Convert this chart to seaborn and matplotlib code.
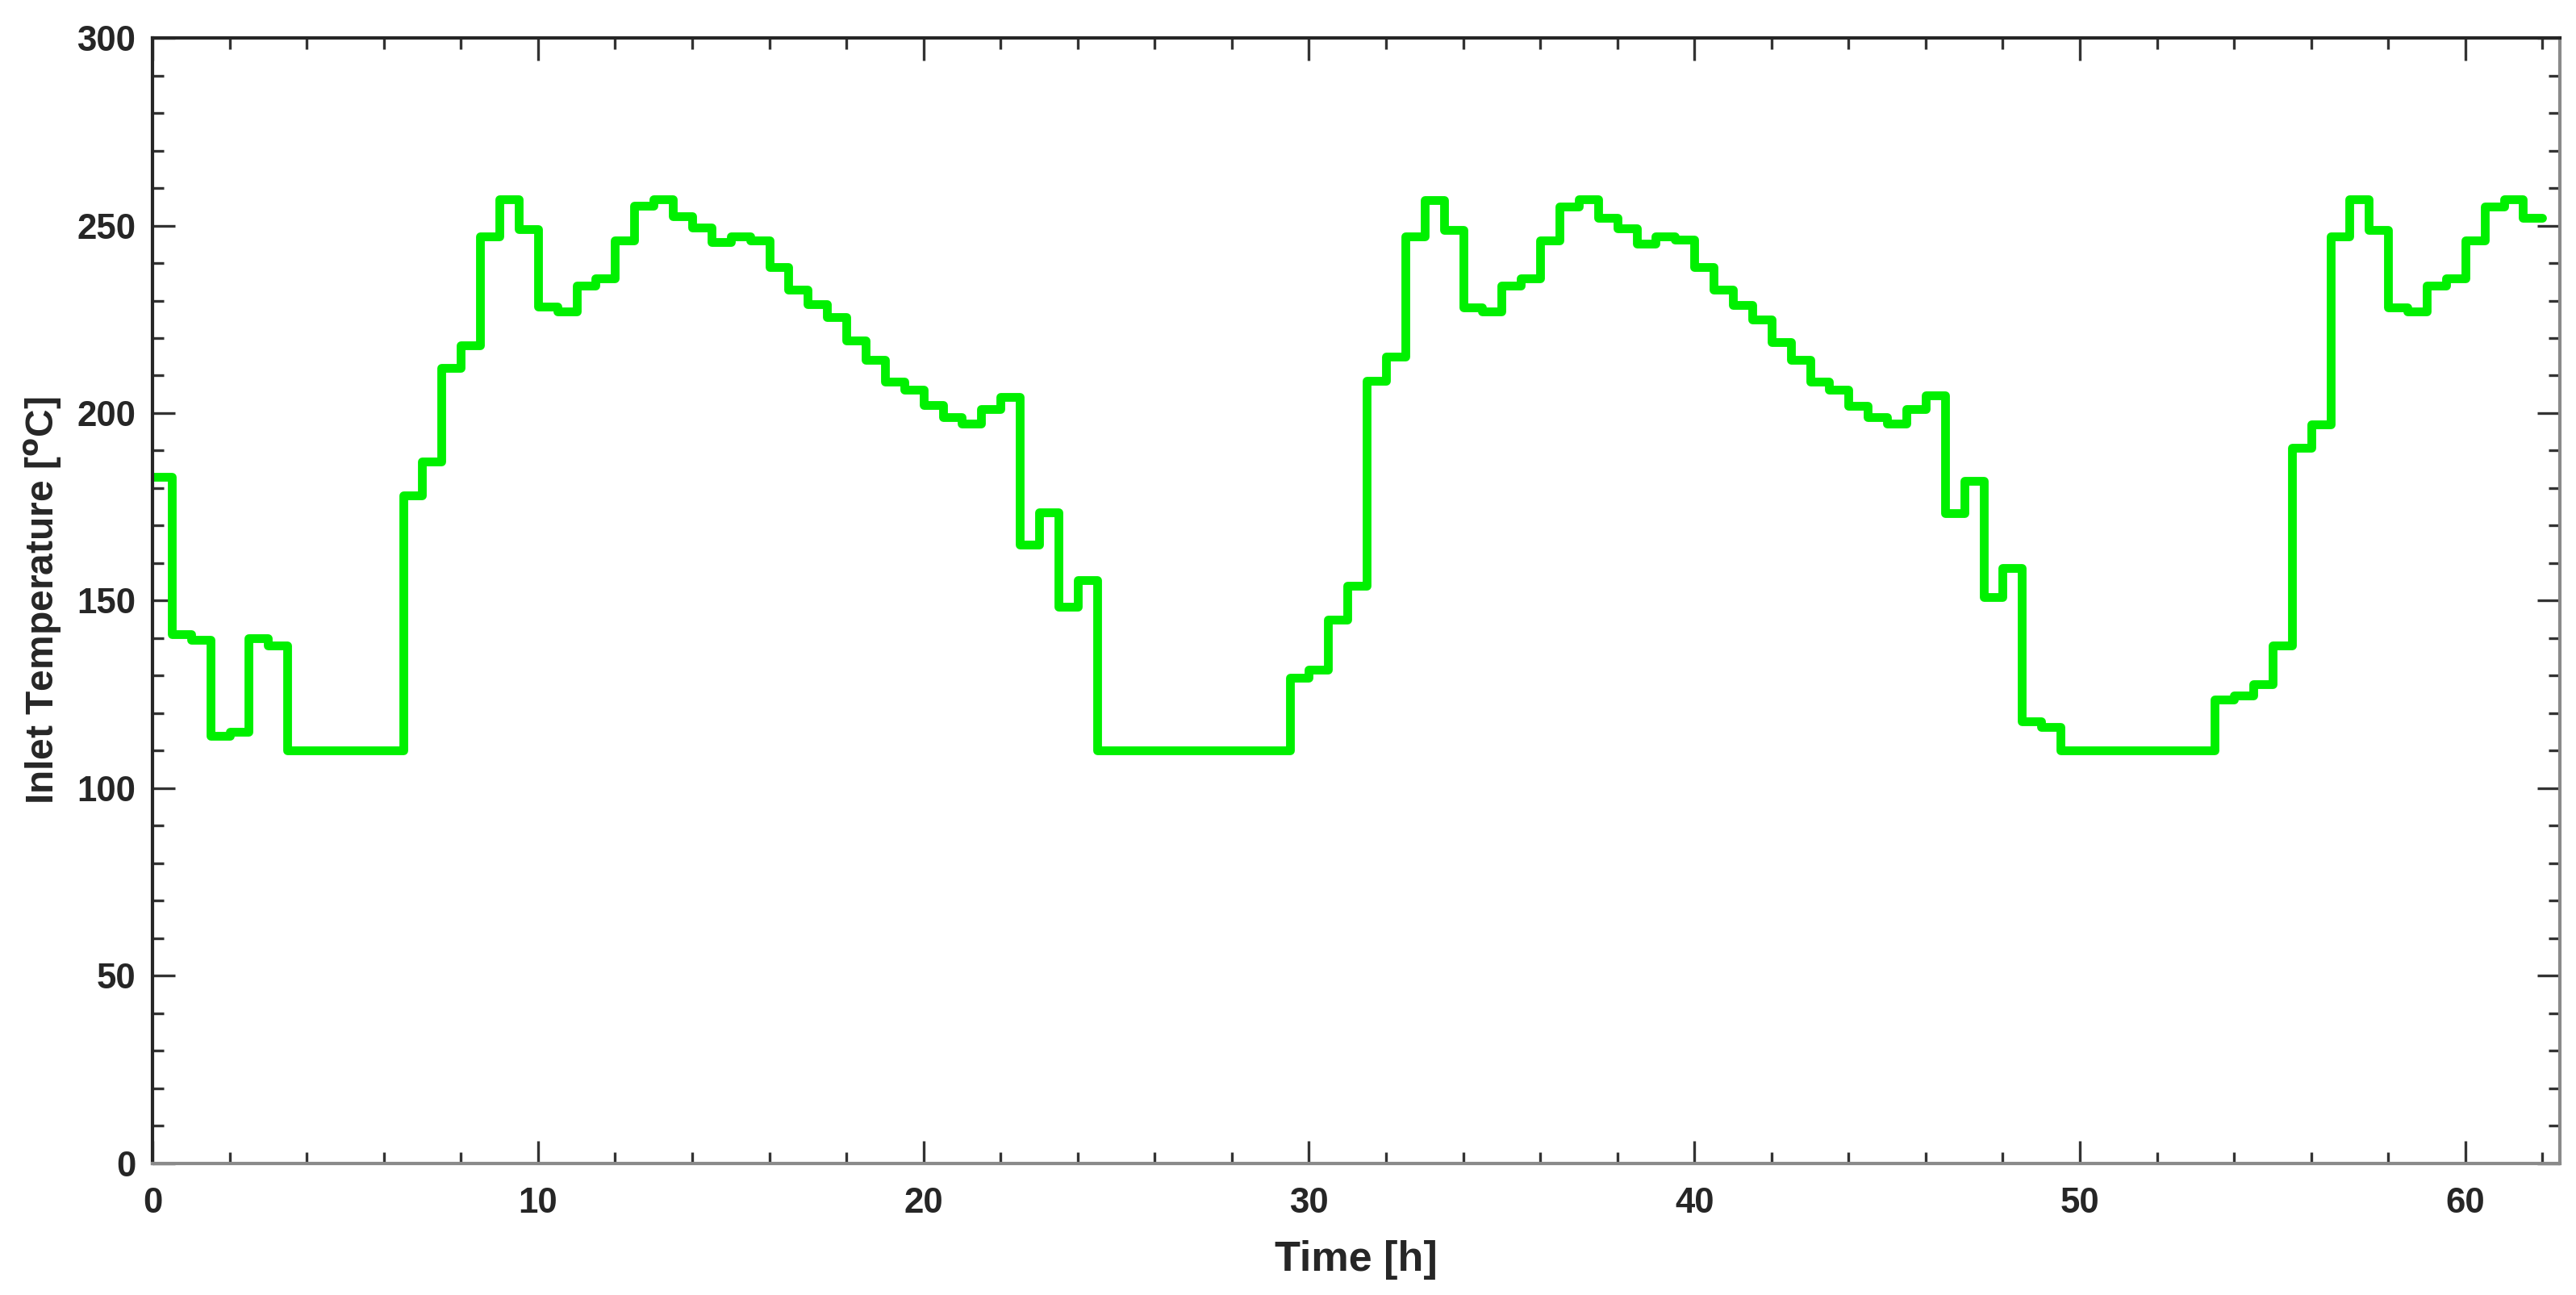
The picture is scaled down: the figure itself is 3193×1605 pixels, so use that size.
import numpy as np
import pandas as pd
import matplotlib
matplotlib.use("Agg")
import matplotlib.pyplot as plt
import seaborn as sns
from matplotlib.ticker import MultipleLocator

# Inlet temperature, one value per half hour (0 h .. 61.5 h)
time_h = np.arange(0, 62.5, 0.5)
inlet_temp = [
    183, 141, 139.5, 114, 115, 140, 138, 110, 110, 110,            # 0.0 - 4.5
    110, 110, 110, 178, 187, 212, 218, 247, 257, 249,              # 5.0 - 9.5
    228.3, 227.2, 234, 236, 246, 255.3, 257, 252.4, 249.5, 245.5,  # 10.0 - 14.5
    247, 246, 239, 233, 229, 225.5, 219.3, 214.2, 208.4, 206.3,    # 15.0 - 19.5
    202.2, 199, 197.2, 201, 204.4, 165, 173.5, 148.3, 155.4, 110,  # 20.0 - 24.5
    110, 110, 110, 110, 110, 110, 110, 110, 110, 129.4,            # 25.0 - 29.5
    131.7, 145, 154, 208.7, 215, 247, 256.7, 248.8, 228.2, 227.2,  # 30.0 - 34.5
    234, 236, 246, 255, 257, 252.1, 249.2, 245.2, 247, 246.2,      # 35.0 - 39.5
    239, 233, 228.9, 225, 219, 214.2, 208.4, 206.3, 202, 199,      # 40.0 - 44.5
    197.3, 201, 204.8, 173.4, 182, 151, 158.7, 117.9, 116.4, 110,  # 45.0 - 49.5
    110, 110, 110, 110, 110, 110, 110, 123.6, 124.8, 127.7,        # 50.0 - 54.5
    138, 190.7, 196.9, 247, 257, 248.8, 228.2, 227.2, 234, 236,    # 55.0 - 59.5
    246, 255, 257, 252,                                            # 60.0 - 61.5
]
# close the last stair at 62 h
df = pd.DataFrame({"time": time_h, "temp": inlet_temp + [inlet_temp[-1]]})

sns.set_theme(style="ticks")
plt.rcParams["font.family"] = ["Liberation Sans", "DejaVu Sans"]
plt.rcParams["font.weight"] = "bold"
plt.rcParams["axes.labelweight"] = "bold"

fig, ax = plt.subplots(figsize=(3193 / 300, 1605 / 300), dpi=300)
fig.subplots_adjust(left=0.0592, right=0.9937, top=0.9707, bottom=0.1016)

sns.lineplot(data=df, x="time", y="temp", ax=ax, color="#00f000", linewidth=2.6,
             drawstyle="steps-post", estimator=None, sort=False,
             solid_joinstyle="round", solid_capstyle="round")

ax.set_xlim(0, 62.45)
ax.set_ylim(0, 300)
ax.xaxis.set_major_locator(MultipleLocator(10))
ax.xaxis.set_minor_locator(MultipleLocator(2))
ax.yaxis.set_major_locator(MultipleLocator(50))
ax.yaxis.set_minor_locator(MultipleLocator(10))

ax.tick_params(which="both", direction="in", top=True, right=True, colors="#333333",
               labelcolor="#262626", width=0.8)
ax.tick_params(which="major", length=6.8, labelsize=10.5)
ax.tick_params(which="minor", length=3.3)
ax.tick_params(axis="x", which="major", pad=7)
ax.tick_params(axis="y", which="major", pad=5)
for lab in ax.get_xticklabels() + ax.get_yticklabels():
    lab.set_fontweight("bold")

for side in ["left", "top"]:
    ax.spines[side].set_color("#262626")
for side in ["bottom", "right"]:
    ax.spines[side].set_color("#8a8a8a")
for sp in ax.spines.values():
    sp.set_linewidth(1.0)

ax.set_xlabel("Time [h]", fontsize=12.5, fontweight="bold", color="#262626", labelpad=6)
ax.set_ylabel(r"Inlet Temperature [$^{\mathbf{o}}$C]", fontsize=11.5, fontweight="bold",
              color="#262626", labelpad=4)

fig.savefig("out.png", dpi=300)
